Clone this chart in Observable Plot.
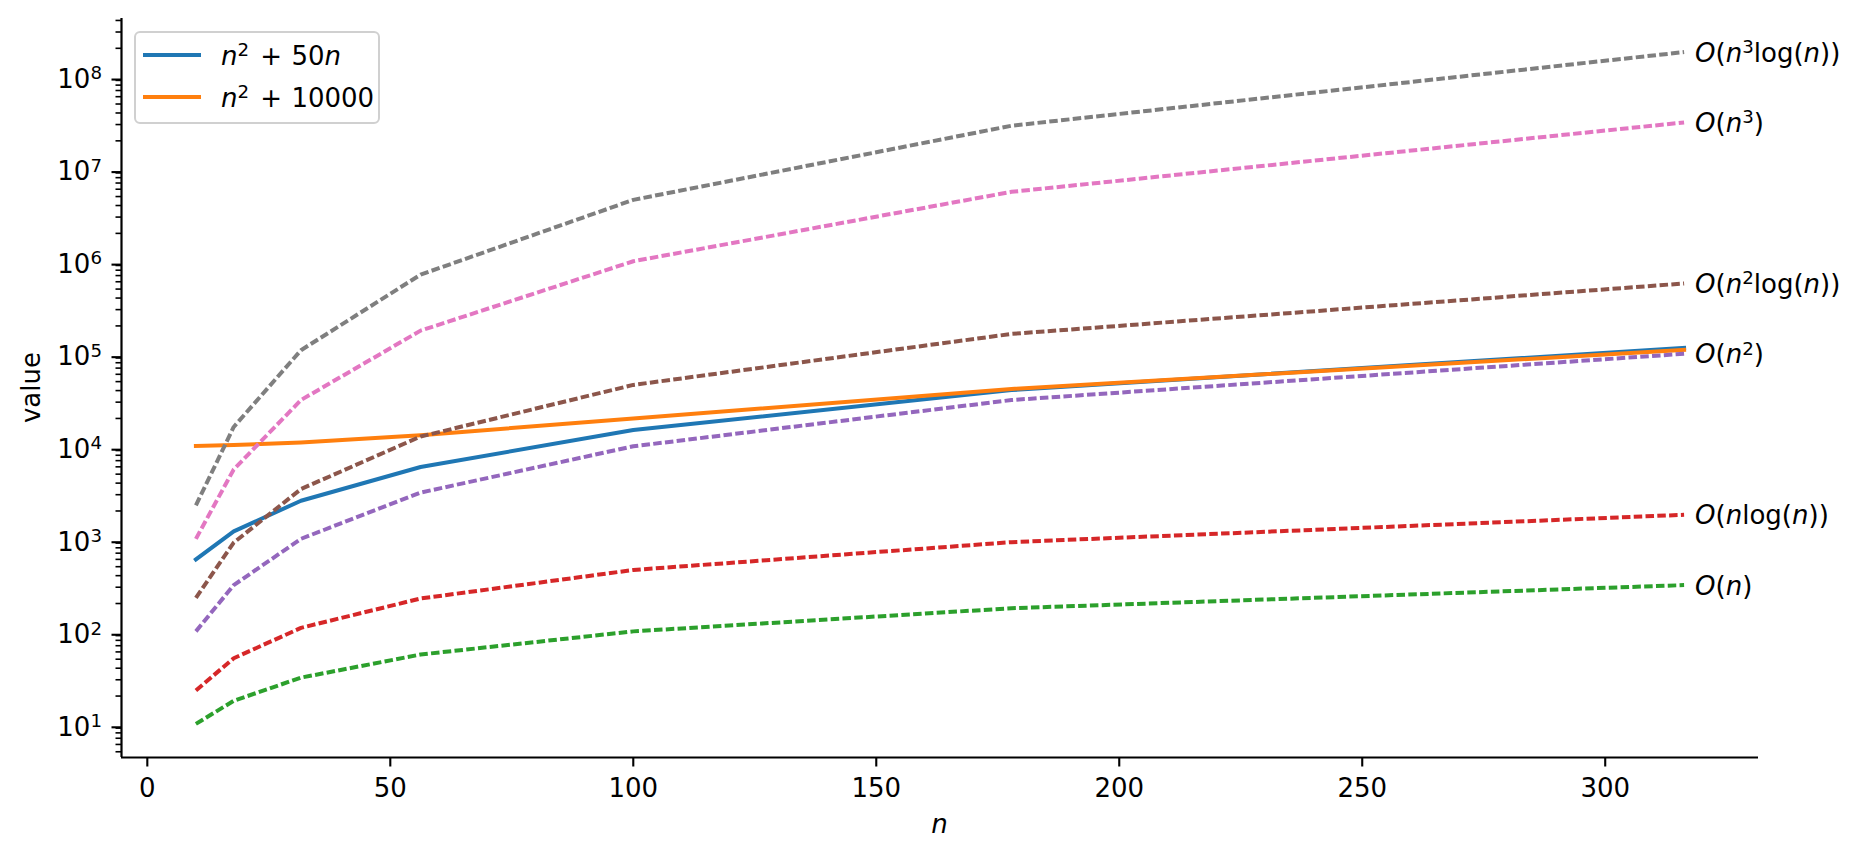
<!DOCTYPE html>
<html>
<head>
<meta charset="utf-8">
<script src="https://cdn.jsdelivr.net/npm/d3@7"></script>
<script src="https://cdn.jsdelivr.net/npm/@observablehq/plot@0.6"></script>
<style>
  html, body { margin: 0; padding: 0; background: #fff; }
  #chart { width: 1863px; height: 858px; position: relative; }
  svg text { white-space: pre; }
</style>
</head>
<body>
<div id="chart"></div>
<script>
// ---- data ----
const n = [10, 17.78, 31.62, 56.23, 100, 177.83, 316.23];
const n2Plus50n = [600, 1205, 2581, 5974, 15000, 40514, 115811];
const n2Plus10000 = [10100, 10316, 11000, 13162, 20000, 41623, 110000];
const On = [10, 17.78, 31.62, 56.23, 100, 177.83, 316.23];
const OnLogn = [23.0, 51.2, 109.2, 226.6, 460.5, 921.2, 1820];
const On2 = [100, 316, 1000, 3162, 10000, 31623, 100000];
const On2Logn = [230, 910, 3454, 12741, 46052, 163830, 575646];
const On3 = [1000, 5623, 31623, 177828, 1000000, 5623413, 31622777];
const On3Logn = [2303, 16183, 109214, 716490, 4605170, 29134500, 182017000];

const solidLabels = ["n^2 + 50n", "n^2 + 10000"];
const dashedLabels = ["O(n)", "O(nlog(n))", "O(n^2)", "O(n^2log(n))", "O(n^3)", "O(n^3log(n))"];
const xTicks = [0, 50, 100, 150, 200, 250, 300];
const yTicks = [1e1, 1e2, 1e3, 1e4, 1e5, 1e6, 1e7, 1e8];
const yTickLabels = ["10^1", "10^2", "10^3", "10^4", "10^5", "10^6", "10^7", "10^8"];
const xLabel = "n";
const yLabel = "value";

// ---- styling ----
const FS = 26;
const FONT = "DejaVu Sans";
const solidSeries = [
  {label: solidLabels[0], values: n2Plus50n, color: "#1f77b4"},
  {label: solidLabels[1], values: n2Plus10000, color: "#ff7f0e"}
];
const dashedSeries = [
  {label: dashedLabels[0], values: On, color: "#2ca02c"},
  {label: dashedLabels[1], values: OnLogn, color: "#d62728"},
  {label: dashedLabels[2], values: On2, color: "#9467bd"},
  {label: dashedLabels[3], values: On2Logn, color: "#8c564b"},
  {label: dashedLabels[4], values: On3, color: "#e377c2"},
  {label: dashedLabels[5], values: On3Logn, color: "#7f7f7f"}
];
const rows = s => n.map((x, i) => ({n: x, value: s.values[i]}));

// matplotlib-like 5% margins
const allVals = [...solidSeries, ...dashedSeries].flatMap(s => s.values);
const xMin = d3.min(n), xMax = d3.max(n);
const xDomain = [xMin - 0.05 * (xMax - xMin), xMax + 0.05 * (xMax - xMin)];
const lMin = Math.log10(d3.min(allVals)), lMax = Math.log10(d3.max(allVals));
const yDomain = [10 ** (lMin - 0.05 * (lMax - lMin)), 10 ** (lMax + 0.05 * (lMax - lMin))];

const minorTicks = [];
for (let k = 0; k <= 8; k++) for (let m = 2; m <= 9; m++) {
  const v = m * 10 ** k;
  if (v >= yDomain[0] && v <= yDomain[1]) minorTicks.push(v);
}

const marks = [
  Plot.axisY({ticks: minorTicks, tickSize: 5.5, strokeWidth: 1.6, tickFormat: () => "", label: null}),
  Plot.axisY({ticks: yTicks, tickSize: 9.5, tickPadding: 10, strokeWidth: 2.1, fontSize: FS,
    tickFormat: v => yTickLabels[yTicks.indexOf(v)], label: null, dy: 3.4}),
  Plot.axisX({ticks: xTicks, tickSize: 9.5, tickPadding: 12, strokeWidth: 2.1, fontSize: FS,
    tickFormat: d => String(d), label: null}),
];
for (const s of solidSeries) {
  marks.push(Plot.line(rows(s), {x: "n", y: "value", stroke: s.color, strokeWidth: 4,
    strokeLinecap: "square", strokeLinejoin: "round"}));
}
for (const s of dashedSeries) {
  marks.push(Plot.line(rows(s), {x: "n", y: "value", stroke: s.color, strokeWidth: 4,
    strokeDasharray: "8.5,3.3", strokeLinecap: "butt", strokeLinejoin: "round"}));
}
const endLabels = dashedSeries.map(s => ({n: n[n.length - 1], value: s.values[s.values.length - 1], label: s.label}));
marks.push(Plot.text(endLabels, {x: "n", y: "value", text: "label", textAnchor: "start",
  dx: 11, dy: 1.3, fontSize: FS, fill: "black", className: "endlabel"}));
marks.push(Plot.ruleX([xDomain[0]], {stroke: "black", strokeWidth: 2.2}));
marks.push(Plot.ruleY([yDomain[0]], {stroke: "black", strokeWidth: 2.2}));

const W = 1863, H = 858;
const mL = 121, mR = 105, mT = 18, mB = 101;
const svg = Plot.plot({
  width: W, height: H,
  marginLeft: mL, marginRight: mR, marginTop: mT, marginBottom: mB,
  style: {fontFamily: FONT, fontSize: FS + "px", color: "black", background: "white", overflow: "visible"},
  x: {domain: xDomain},
  y: {type: "log", domain: yDomain},
  marks
});

// ---- rich text (italic variables, superscripts) ----
function richify(el, str, fs) {
  while (el.firstChild) el.removeChild(el.firstChild);
  const ns = "http://www.w3.org/2000/svg";
  const rise = fs * 0.33;
  let pending = 0;
  const add = (t, opts = {}) => {
    const ts = document.createElementNS(ns, "tspan");
    ts.textContent = t;
    if (opts.italic) ts.setAttribute("font-style", "italic");
    if (opts.size) ts.setAttribute("font-size", opts.size);
    if (opts.dx) ts.setAttribute("dx", opts.dx);
    let dy = pending + (opts.dy || 0);
    if (dy) ts.setAttribute("dy", dy);
    pending = opts.dy ? -opts.dy : 0;
    el.appendChild(ts);
  };
  let i = 0;
  while (i < str.length) {
    if (str.startsWith("log", i)) { add("log"); i += 3; }
    else if (str[i] === "^") { add(str[i + 1], {size: fs * 0.7, dy: -rise}); i += 2; }
    else if (/[A-Za-z]/.test(str[i])) { add(str[i], {italic: true}); i += 1; }
    else if (str[i] === "+") { add("+", {dx: 2}); i += 1; }
    else if (str[i] === " ") { add(" ", {dx: 1}); i += 1; }
    else { add(str[i]); i += 1; }
  }
}
svg.querySelectorAll("text").forEach(t => {
  const s = t.textContent;
  if (yTickLabels.includes(s)) {
    while (t.firstChild) t.removeChild(t.firstChild);
    const ns = "http://www.w3.org/2000/svg";
    const a = document.createElementNS(ns, "tspan"); a.textContent = "10";
    const b = document.createElementNS(ns, "tspan"); b.textContent = s.split("^")[1];
    b.setAttribute("font-size", FS * 0.7); b.setAttribute("dy", -FS * 0.33);
    t.appendChild(a); t.appendChild(b);
  } else if (dashedLabels.includes(s)) {
    richify(t, s, FS);
  }
});

// ---- axis labels ----
const sel = d3.select(svg);
sel.append("text").attr("x", (mL + W - mR) / 2).attr("y", 833)
  .attr("text-anchor", "middle").attr("font-size", FS).attr("font-style", "italic")
  .attr("fill", "black").text(xLabel);
sel.append("text").attr("transform", `translate(40, ${(mT + H - mB) / 2}) rotate(-90)`)
  .attr("text-anchor", "middle").attr("font-size", FS).attr("fill", "black").text(yLabel);

// ---- legend ----
const lg = sel.append("g").attr("text-anchor", "start");
lg.append("rect").attr("x", 135).attr("y", 32).attr("width", 244).attr("height", 91)
  .attr("rx", 5).attr("fill", "white").attr("fill-opacity", 0.8)
  .attr("stroke", "#d0d0d0").attr("stroke-width", 2);
solidSeries.forEach((s, i) => {
  const y = 55 + i * 42;
  lg.append("line").attr("x1", 143).attr("x2", 201).attr("y1", y).attr("y2", y)
    .attr("stroke", s.color).attr("stroke-width", 4);
  const t = lg.append("text").attr("x", 221).attr("y", y + 10).attr("text-anchor", "start")
    .attr("font-size", FS).attr("fill", "black");
  richify(t.node(), s.label, FS);
});

document.getElementById("chart").appendChild(svg);
</script>
</body>
</html>
